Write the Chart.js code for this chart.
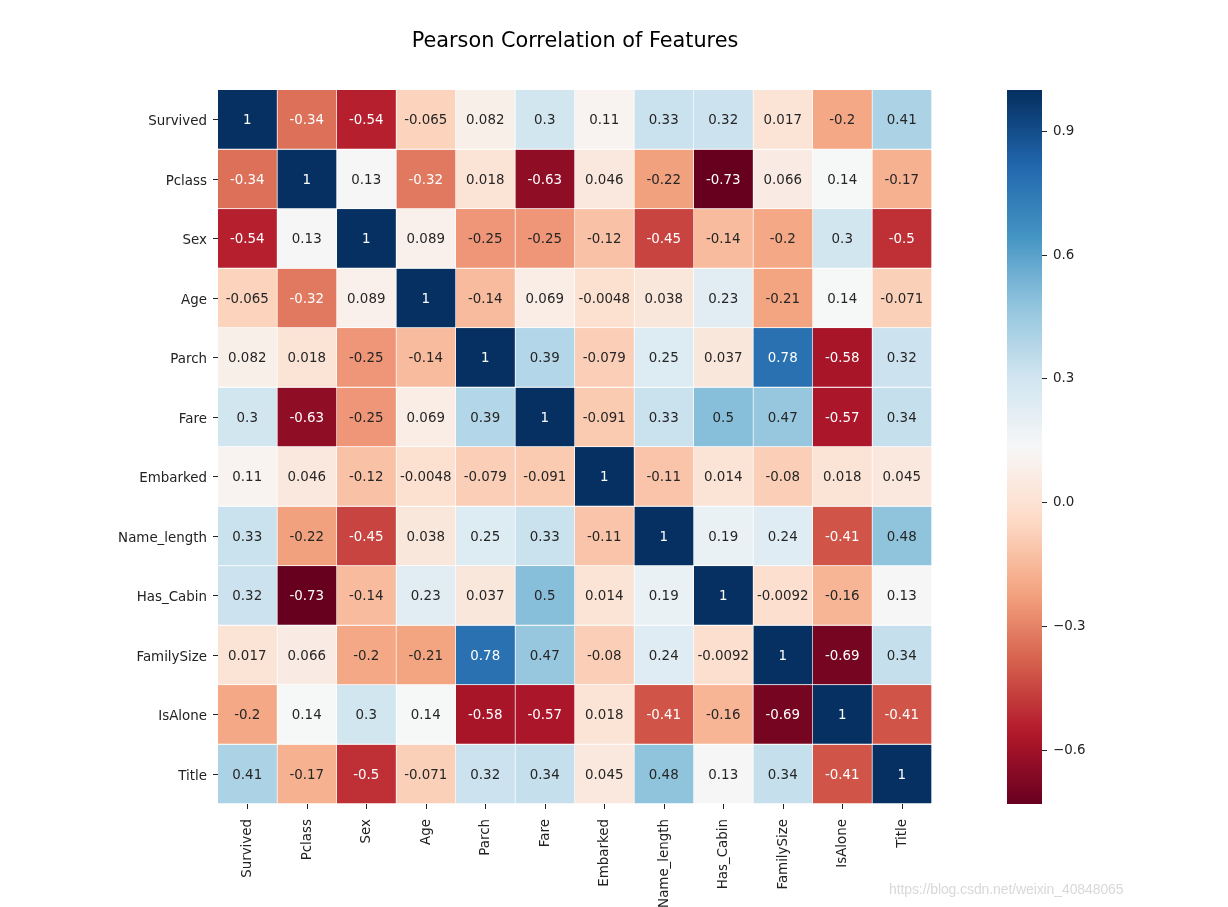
<!DOCTYPE html>
<html lang="en">
<head>
    <meta charset="UTF-8">
    <title>Pearson Correlation of Features</title>
    <script src="https://cdn.jsdelivr.net/npm/chart.js"></script>
    <style>
        body { margin: 0; background: #fff; }
        #wrap { position: relative; width: 1228px; height: 907px; overflow: hidden; }
        #heatmap { position: absolute; left: 0; top: 0; }
        #colorbar { position: absolute; left: 1000px; top: 0; }
        #mark {
            position: absolute; left: 889px; top: 881px;
            font-family: "Liberation Sans", Arial, sans-serif; font-size: 14px;
            color: #d8d8d8; letter-spacing: -0.1px;
        }
    </style>
</head>
<body>
<div id="wrap">
    <canvas id="heatmap" width="1228" height="907"></canvas>
    <canvas id="colorbar" width="228" height="907"></canvas>
    <div id="mark">https://blog.csdn.net/weixin_40848065</div>
</div>
<script>
    const features = ['Survived', 'Pclass', 'Sex', 'Age', 'Parch', 'Fare', 'Embarked',
        'Name_length', 'Has_Cabin', 'FamilySize', 'IsAlone', 'Title'];

    // one row of the correlation matrix per feature
    const survived   = [1, -0.34, -0.54, -0.065, 0.082, 0.3, 0.11, 0.33, 0.32, 0.017, -0.2, 0.41];
    const pclass     = [-0.34, 1, 0.13, -0.32, 0.018, -0.63, 0.046, -0.22, -0.73, 0.066, 0.14, -0.17];
    const sex        = [-0.54, 0.13, 1, 0.089, -0.25, -0.25, -0.12, -0.45, -0.14, -0.2, 0.3, -0.5];
    const age        = [-0.065, -0.32, 0.089, 1, -0.14, 0.069, -0.0048, 0.038, 0.23, -0.21, 0.14, -0.071];
    const parch      = [0.082, 0.018, -0.25, -0.14, 1, 0.39, -0.079, 0.25, 0.037, 0.78, -0.58, 0.32];
    const fare       = [0.3, -0.63, -0.25, 0.069, 0.39, 1, -0.091, 0.33, 0.5, 0.47, -0.57, 0.34];
    const embarked   = [0.11, 0.046, -0.12, -0.0048, -0.079, -0.091, 1, -0.11, 0.014, -0.08, 0.018, 0.045];
    const nameLength = [0.33, -0.22, -0.45, 0.038, 0.25, 0.33, -0.11, 1, 0.19, 0.24, -0.41, 0.48];
    const hasCabin   = [0.32, -0.73, -0.14, 0.23, 0.037, 0.5, 0.014, 0.19, 1, -0.0092, -0.16, 0.13];
    const familySize = [0.017, 0.066, -0.2, -0.21, 0.78, 0.47, -0.08, 0.24, -0.0092, 1, -0.69, 0.34];
    const isAlone    = [-0.2, 0.14, 0.3, 0.14, -0.58, -0.57, 0.018, -0.41, -0.16, -0.69, 1, -0.41];
    const title      = [0.41, -0.17, -0.5, -0.071, 0.32, 0.34, 0.045, 0.48, 0.13, 0.34, -0.41, 1];

    const colorbarTicks = [0.9, 0.6, 0.3, 0.0, -0.3, -0.6];

    const matrix = [survived, pclass, sex, age, parch, fare, embarked, nameLength, hasCabin, familySize, isAlone, title];
    const vmin = Math.min(...matrix.flat());
    const vmax = Math.max(...matrix.flat());

    // matplotlib RdBu
    const rdbuStops = ['#67001f', '#b2182b', '#d6604d', '#f4a582', '#fddbc7', '#f7f7f7',
        '#d1e5f0', '#92c5de', '#4393c3', '#2166ac', '#053061'].map(h => [
        parseInt(h.slice(1, 3), 16), parseInt(h.slice(3, 5), 16), parseInt(h.slice(5, 7), 16)]);

    function rdbuRgb(t) {
        t = Math.max(0, Math.min(1, t));
        t = Math.min(255, Math.floor(t * 256)) / 255;
        const p = t * 10;
        const k = Math.min(9, Math.floor(p));
        const f = p - k;
        const a = rdbuStops[k], b = rdbuStops[k + 1];
        return [0, 1, 2].map(i => Math.round(a[i] + (b[i] - a[i]) * f));
    }
    const css = c => `rgb(${c[0]},${c[1]},${c[2]})`;
    const norm = v => (v - vmin) / (vmax - vmin);

    function luminance(c) {
        const l = c.map(x => {
            x /= 255;
            return x <= 0.03928 ? x / 12.92 : Math.pow((x + 0.055) / 1.055, 2.4);
        });
        return 0.2126 * l[0] + 0.7152 * l[1] + 0.0722 * l[2];
    }

    const FONT = 'DejaVu Sans';
    const TEXT = '#222';

    const annotate = {
        id: 'annotate',
        afterDatasetsDraw(chart) {
            const ctx = chart.ctx;
            ctx.save();
            ctx.font = `13.4px "${FONT}"`;
            ctx.textAlign = 'center';
            ctx.textBaseline = 'middle';
            chart.data.datasets.forEach((ds, r) => {
                chart.getDatasetMeta(r).data.forEach((el, c) => {
                    const v = ds.values[c];
                    const { x, y } = el.getCenterPoint();
                    ctx.fillStyle = luminance(rdbuRgb(norm(v))) > 0.408 ? '#262626' : '#ffffff';
                    ctx.fillText(String(v), x - 0.5, y + 1);
                });
            });
            ctx.restore();
        }
    };

    new Chart(document.getElementById('heatmap'), {
        type: 'bar',
        data: {
            labels: features,
            datasets: matrix.map((row, r) => ({
                label: features[r],
                values: row,
                data: row.map(() => [r, r + 1]),
                backgroundColor: row.map(v => css(rdbuRgb(norm(v)))),
                borderColor: '#ffffff',
                borderWidth: { top: 0, left: 0, right: 1, bottom: 1 },
                borderSkipped: false,
                barPercentage: 1,
                categoryPercentage: 1,
                grouped: false
            }))
        },
        options: {
            responsive: false,
            animation: false,
            layout: { padding: { left: 0, right: 296, top: 0, bottom: 0 } },
            plugins: {
                legend: { display: false },
                tooltip: { enabled: false },
                title: {
                    display: true,
                    text: 'Pearson Correlation of Features',
                    color: '#000',
                    fullSize: false,
                    font: { family: FONT, size: 20.8, weight: 'normal' },
                    padding: { top: 29.5, bottom: 35.5 }
                }
            },
            scales: {
                x: {
                    type: 'category',
                    offset: true,
                    ticks: {
                        autoSkip: false, minRotation: 90, maxRotation: 90,
                        color: TEXT, padding: 10,
                        font: { family: FONT, size: 13.4 }
                    },
                    grid: { offset: false, drawOnChartArea: false, tickLength: 5, tickColor: TEXT },
                    border: { display: false },
                    afterFit: s => { s.height = 103; }
                },
                y: {
                    type: 'linear',
                    min: 0,
                    max: features.length,
                    reverse: true,
                    afterBuildTicks: s => { s.ticks = features.map((_, i) => ({ value: i + 0.5 })); },
                    ticks: {
                        autoSkip: false, color: TEXT, padding: 6, labelOffset: 2,
                        font: { family: FONT, size: 13.4 },
                        callback: (v, i) => features[i]
                    },
                    grid: { drawOnChartArea: false, tickLength: 5, tickColor: TEXT },
                    border: { display: false },
                    afterFit: s => { s.width = 218; }
                }
            }
        },
        plugins: [annotate]
    });

    function barGradient(context) {
        const { chart } = context;
        const area = chart.chartArea;
        if (!area) return null;
        const g = chart.ctx.createLinearGradient(0, area.bottom, 0, area.top);
        for (let k = 0; k <= 64; k++) g.addColorStop(k / 64, css(rdbuRgb(k / 64)));
        return g;
    }

    new Chart(document.getElementById('colorbar'), {
        type: 'bar',
        data: {
            labels: [''],
            datasets: [{
                data: [[vmin, vmax]],
                backgroundColor: barGradient,
                borderWidth: 0,
                barPercentage: 1,
                categoryPercentage: 1
            }]
        },
        options: {
            responsive: false,
            animation: false,
            layout: { padding: { left: 7, right: 0, top: 90, bottom: 103 } },
            plugins: { legend: { display: false }, tooltip: { enabled: false } },
            scales: {
                x: { display: false },
                y: {
                    position: 'right',
                    min: vmin,
                    max: vmax,
                    afterBuildTicks: s => { s.ticks = colorbarTicks.map(v => ({ value: v })); },
                    ticks: {
                        color: TEXT, padding: 6,
                        font: { family: FONT, size: 13.4 },
                        callback: v => (v < 0 ? '\u2212' : '') + Math.abs(v).toFixed(1)
                    },
                    grid: { drawOnChartArea: false, tickLength: 5, tickColor: TEXT },
                    border: { display: false },
                    afterFit: s => { s.width = 186; }
                }
            }
        }
    });
</script>
</body>
</html>
